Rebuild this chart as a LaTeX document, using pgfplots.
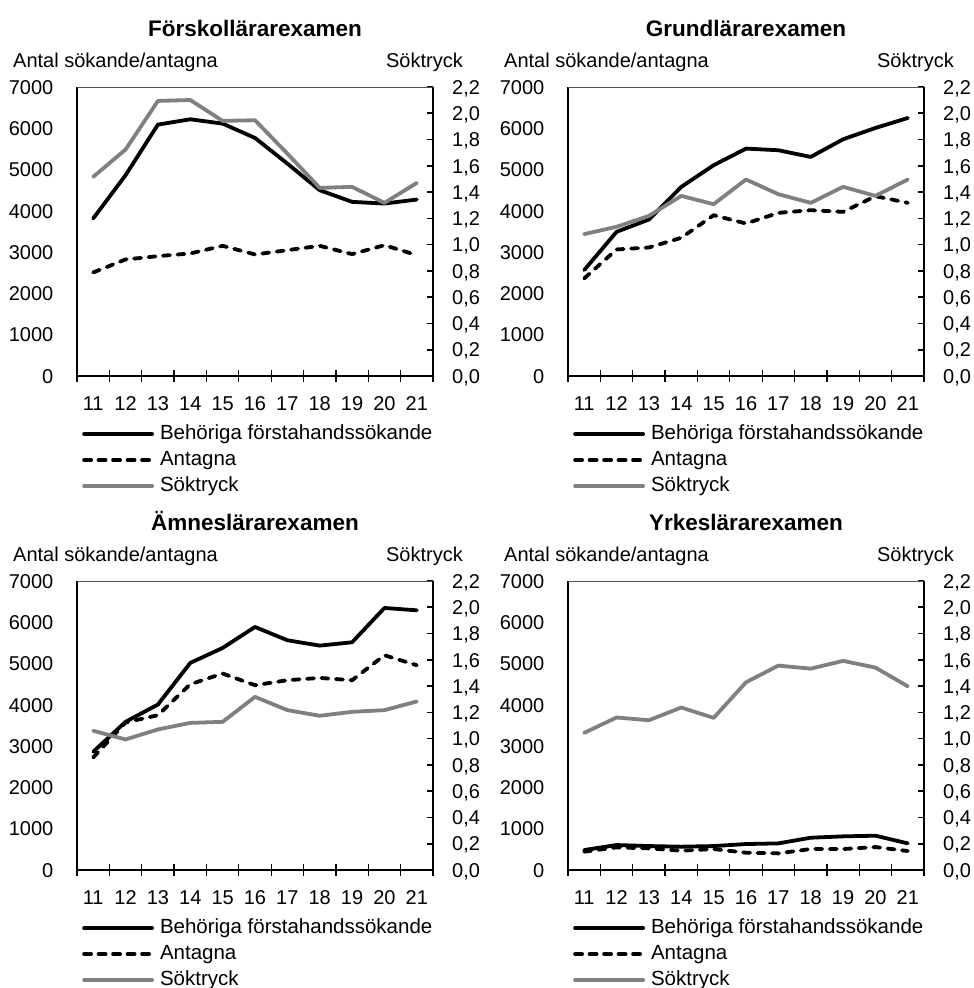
\documentclass[border=0pt]{standalone}
\usepackage{pgfplots}
\usepackage{pgfplotstable}
\pgfplotsset{compat=1.18}
\usepackage{fontspec}
\setmainfont{Liberation Sans}
\definecolor{sgray}{RGB}{128,128,128}
\definecolor{fgray}{RGB}{80,80,80}

\pgfplotstableread{
year beh ant sok
11 3815 2508 1.516
12 4863 2823 1.724
13 6089 2903 2.094
14 6218 2968 2.101
15 6113 3153 1.942
16 5766 2944 1.947
17 5145 3048 1.693
18 4500 3153 1.432
19 4218 2952 1.440
20 4177 3169 1.318
21 4274 2927 1.470
}\tabA
\pgfplotstableread{
year beh ant sok
11 2565 2363 1.080
12 3492 3065 1.136
13 3790 3113 1.219
14 4581 3347 1.371
15 5105 3895 1.308
16 5508 3694 1.496
17 5468 3952 1.384
18 5306 4016 1.318
19 5734 3976 1.440
20 6008 4355 1.371
21 6250 4194 1.496
}\tabB
\pgfplotstableread{
year beh ant sok
11 2863 2726 1.060
12 3589 3573 0.994
13 4008 3750 1.070
14 5016 4500 1.120
15 5379 4758 1.128
16 5887 4476 1.318
17 5565 4597 1.217
18 5435 4653 1.174
19 5516 4597 1.204
20 6347 5202 1.217
21 6290 4960 1.283
}\tabC
\pgfplotstableread{
year beh ant sok
11 484 444 1.044
12 605 548 1.161
13 580 524 1.140
14 565 468 1.237
15 580 508 1.158
16 629 419 1.429
17 645 403 1.556
18 782 508 1.533
19 815 508 1.592
20 831 556 1.541
21 645 460 1.398
}\tabD

\newcommand\fs{\fontsize{20}{24}\selectfont}

\pgfplotsset{
  base/.style={
    scale only axis, width=356pt, height=289pt,
    xmin=10.5, xmax=21.5,
    tick label style={font=\fs},
    anchor=south west,
  },
  leftax/.style={base,
    ymin=0, ymax=7000,
    ytick={0,1000,2000,3000,4000,5000,6000,7000},
    yticklabels={0,1000,2000,3000,4000,5000,6000,7000},
    axis x line*=bottom, axis y line*=left,
    axis line style={-, black, line width=1.2pt},
    xtick={10.5,11.5,12.5,13.5,14.5,15.5,16.5,17.5,18.5,19.5,20.5,21.5},
    xticklabels={11,12,13,14,15,16,17,18,19,20,21,{}},
    x tick style={black, line width=1.2pt},
    major tick length=12pt, tick align=center,
    ytick style={draw=none},
    yticklabel style={anchor=base east, inner sep=0pt, xshift=-17.5pt, yshift=-7.2pt},
    xticklabel style={anchor=base, inner sep=0pt, xshift=16.18pt, yshift=-28pt},
    clip=false,
    legend style={draw=none, fill=none, at={(rel axis cs:0,0)}, anchor=north west,
      xshift=5pt, yshift=-48pt, inner sep=0pt, row sep=6pt, column sep=6pt,
      font=\fontsize{20.5}{24}\selectfont,
      nodes={inner sep=0pt, text height=15pt, text depth=5pt}},
    legend cell align=left,
    legend image code/.code={\draw[##1] (0pt,0pt) -- (68pt,0pt);},
  },
  rightax/.style={base,
    ymin=0, ymax=2.2,
    ytick={0,0.2,0.4,0.6,0.8,1.0,1.2,1.4,1.6,1.8,2.0,2.2},
    yticklabels={{0,0},{0,2},{0,4},{0,6},{0,8},{1,0},{1,2},{1,4},{1,6},{1,8},{2,0},{2,2}},
    axis x line*=top, axis y line*=right,
    x axis line style={-, fgray, line width=0.9pt},
    y axis line style={-, black, line width=2pt},
    xtick=\empty,
    ytick style={black, line width=1.6pt},
    major tick length=6pt, tick align=inside,
    yticklabel style={anchor=base west, inner sep=0pt, xshift=19pt, yshift=-7.2pt},
  },
  lbeh/.style={black, line width=3.8pt, line cap=round, line join=round},
  lant/.style={black, line width=3.8pt, line cap=round, line join=round, dash pattern=on 7pt off 7.5pt},
  lsok/.style={sgray, line width=3.8pt, line cap=round, line join=round},
}

\newcommand\panel[3]{%
  \begin{axis}[leftax, at={(#1)}]
    \addplot[lbeh] table[x=year, y=beh] {#3};
    \addlegendentry{Behöriga förstahandssökande}
    \addplot[lant] table[x=year, y=ant] {#3};
    \addlegendentry{Antagna}
    \addlegendimage{lsok}
    \addlegendentry{Söktryck}
    \node[anchor=base, inner sep=0pt, yshift=51pt, font=\bfseries\fontsize{22.5}{27}\selectfont] at (rel axis cs:0.5,1) {#2};
    \node[anchor=base west, inner sep=0pt, xshift=-64pt, yshift=20pt, font=\fs] at (rel axis cs:0,1) {Antal sökande/antagna};
    \node[anchor=base east, inner sep=0pt, xshift=30pt, yshift=20pt, font=\fs] at (rel axis cs:1,1) {Söktryck};
  \end{axis}
  \begin{axis}[rightax, at={(#1)}]
    \addplot[lsok] table[x=year, y=sok] {#3};
  \end{axis}
}

\begin{document}
\begin{tikzpicture}
\path[use as bounding box] (0pt,0pt) rectangle (974pt,-988pt);
\panel{77pt,-376pt}{Förskollärarexamen}{\tabA}
\panel{568pt,-376pt}{Grundlärarexamen}{\tabB}
\panel{77pt,-870pt}{Ämneslärarexamen}{\tabC}
\panel{568pt,-870pt}{Yrkeslärarexamen}{\tabD}
\end{tikzpicture}
\end{document}
